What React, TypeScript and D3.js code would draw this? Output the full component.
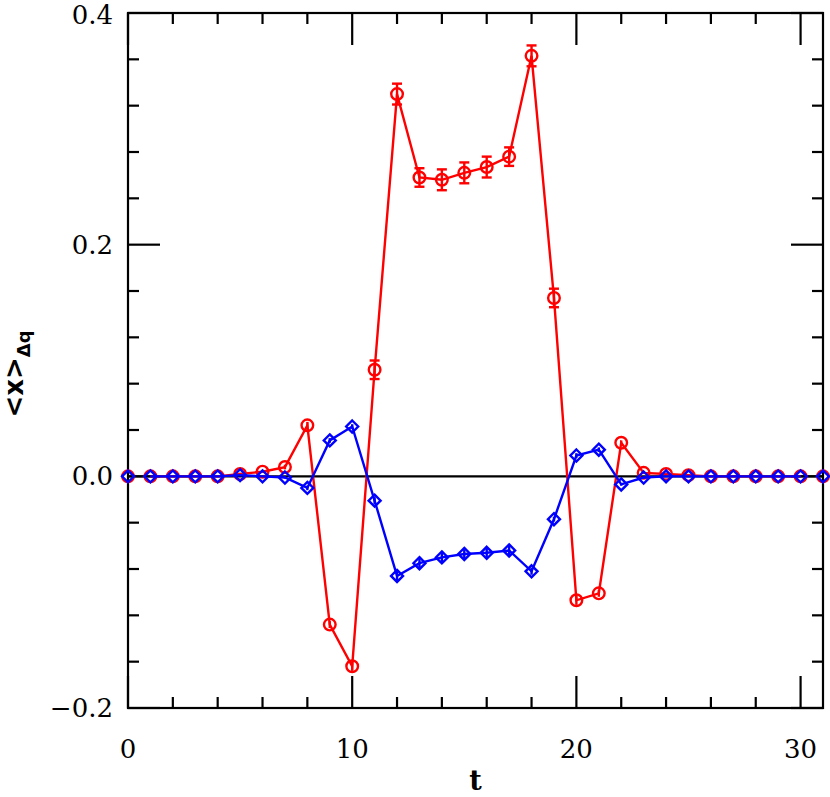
import React, { useEffect, useRef } from 'react';
import * as d3 from 'd3';

// time slices
const tValues = [0, 1, 2, 3, 4, 5, 6, 7, 8, 9, 10, 11, 12, 13, 14, 15, 16, 17, 18, 19, 20, 21, 22, 23, 24, 25, 26, 27, 28, 29, 30, 31];

// red circles
const redValues = [0, 0, 0, 0, 0, 0.002, 0.004, 0.008, 0.044, -0.128, -0.164, 0.092, 0.330, 0.258, 0.256, 0.262, 0.267, 0.276, 0.363, 0.154, -0.107, -0.101, 0.029, 0.003, 0.002, 0.001, 0, 0, 0, 0, 0, 0];
const redErrors = [0, 0, 0, 0, 0, 0.001, 0.001, 0.002, 0.003, 0.003, 0.004, 0.008, 0.009, 0.008, 0.009, 0.009, 0.009, 0.008, 0.009, 0.008, 0.004, 0.003, 0.002, 0.001, 0.001, 0, 0, 0, 0, 0, 0, 0];

// blue diamonds
const blueValues = [0, 0, 0, 0, 0, 0.001, 0, -0.001, -0.010, 0.031, 0.043, -0.021, -0.086, -0.075, -0.070, -0.067, -0.066, -0.064, -0.082, -0.037, 0.018, 0.023, -0.007, -0.001, 0, 0, 0, 0, 0, 0, 0, 0];
const blueErrors = [0, 0, 0, 0, 0, 0, 0, 0.001, 0.002, 0.002, 0.002, 0.003, 0.004, 0.004, 0.004, 0.004, 0.004, 0.004, 0.003, 0.002, 0.002, 0.002, 0.001, 0.001, 0, 0, 0, 0, 0, 0, 0, 0];

const xMajor = [0, 10, 20, 30];
const yMajor = [-0.2, 0, 0.2, 0.4];
const yTickLabels = ['\u22120.2', '0.0', '0.2', '0.4'];

const Chart = () => {
  const ref = useRef<SVGSVGElement>(null);

  useEffect(() => {
    const svg = d3.select(ref.current);
    svg.selectAll('*').remove();

    const left = 128, right = 823, top = 13, bottom = 708;
    const x = d3.scaleLinear().domain([0, 31]).range([left, right]);
    const y = d3.scaleLinear().domain([-0.2, 0.4]).range([bottom, top]);

    const font = '"DejaVu Serif", serif';
    const g = svg.append('g');

    // zero line
    g.append('line')
      .attr('x1', x(0)).attr('x2', x(31))
      .attr('y1', y(0)).attr('y2', y(0))
      .attr('stroke', '#000').attr('stroke-width', 2.2);

    // ticks, all pointing inward
    const xMinor = d3.range(0, 31.01, 2);
    const yMinor = d3.range(-0.2, 0.401, 0.04);
    const ticks = g.append('g').attr('stroke', '#000').attr('stroke-width', 2.2);
    xMinor.forEach(v => {
      const len = xMajor.includes(Math.round(v)) ? 32 : 11;
      ticks.append('line').attr('x1', x(v)).attr('x2', x(v)).attr('y1', bottom).attr('y2', bottom - len);
      ticks.append('line').attr('x1', x(v)).attr('x2', x(v)).attr('y1', top).attr('y2', top + len);
    });
    yMinor.forEach(v => {
      const major = yMajor.some(m => Math.abs(m - v) < 1e-6);
      const len = major ? 32 : 11;
      ticks.append('line').attr('x1', left).attr('x2', left + len).attr('y1', y(v)).attr('y2', y(v));
      ticks.append('line').attr('x1', right).attr('x2', right - len).attr('y1', y(v)).attr('y2', y(v));
    });

    // frame
    g.append('rect')
      .attr('x', left).attr('y', top)
      .attr('width', right - left).attr('height', bottom - top)
      .attr('fill', 'none').attr('stroke', '#000').attr('stroke-width', 2.2);

    // tick labels
    g.selectAll('.xlab').data(xMajor).enter().append('text')
      .attr('x', d => x(d)).attr('y', 758)
      .attr('text-anchor', 'middle')
      .attr('font-family', font).attr('font-size', 26)
      .text(d => d);
    g.selectAll('.ylab').data(yMajor).enter().append('text')
      .attr('x', 113).attr('y', d => Math.max(y(d) + 9, 24))
      .attr('text-anchor', 'end')
      .attr('font-family', font).attr('font-size', 26)
      .text((d, i) => yTickLabels[i]);

    // axis titles
    g.append('text')
      .attr('x', x(15.5)).attr('y', 790)
      .attr('text-anchor', 'middle')
      .attr('font-family', font).attr('font-size', 27).attr('font-weight', 'bold')
      .text('t');
    const yt = g.append('text')
      .attr('transform', 'translate(23,374) rotate(-90)')
      .attr('text-anchor', 'middle')
      .attr('font-family', '"DejaVu Sans", sans-serif').attr('font-size', 26).attr('font-weight', 'bold');
    yt.append('tspan').text('<x>');
    yt.append('tspan').attr('font-size', 18).attr('dy', 7).text('\u0394q');

    const drawSeries = (vals: number[], errs: number[], color: string, shape: 'circle' | 'diamond') => {
      const pts = tValues.map((t, i) => ({ t, v: vals[i], e: errs[i] }));
      const line = d3.line<{ t: number; v: number }>().x(d => x(d.t)).y(d => y(d.v));
      g.append('path')
        .datum(pts.slice(1, -1))
        .attr('d', line)
        .attr('fill', 'none').attr('stroke', color).attr('stroke-width', 2.4);

      const eb = g.append('g').attr('stroke', color).attr('stroke-width', 2.4);
      pts.forEach(p => {
        if (p.e <= 0) return;
        eb.append('line').attr('x1', x(p.t)).attr('x2', x(p.t)).attr('y1', y(p.v - p.e)).attr('y2', y(p.v + p.e));
        if (y(p.v - p.e) - y(p.v + p.e) > 12) {
          [p.v - p.e, p.v + p.e].forEach(c => {
            eb.append('line').attr('x1', x(p.t) - 5).attr('x2', x(p.t) + 5).attr('y1', y(c)).attr('y2', y(c));
          });
        }
      });

      const mk = g.append('g').attr('stroke', color).attr('stroke-width', 2.4).attr('fill', 'none');
      pts.forEach(p => {
        if (shape === 'circle') {
          mk.append('circle').attr('cx', x(p.t)).attr('cy', y(p.v)).attr('r', 5.8);
        } else {
          const cx = x(p.t), cy = y(p.v), s = 6;
          mk.append('path').attr('d', `M${cx},${cy - s}L${cx + s},${cy}L${cx},${cy + s}L${cx - s},${cy}Z`);
        }
      });
    };

    drawSeries(redValues, redErrors, '#ff0000', 'circle');
    drawSeries(blueValues, blueErrors, '#0000ff', 'diamond');
  }, []);

  return <svg ref={ref} width={830} height={797} style={{ position: 'absolute', left: 0, top: 0, background: '#fff' }} />;
};

export default function App() {
  return <Chart />;
}
